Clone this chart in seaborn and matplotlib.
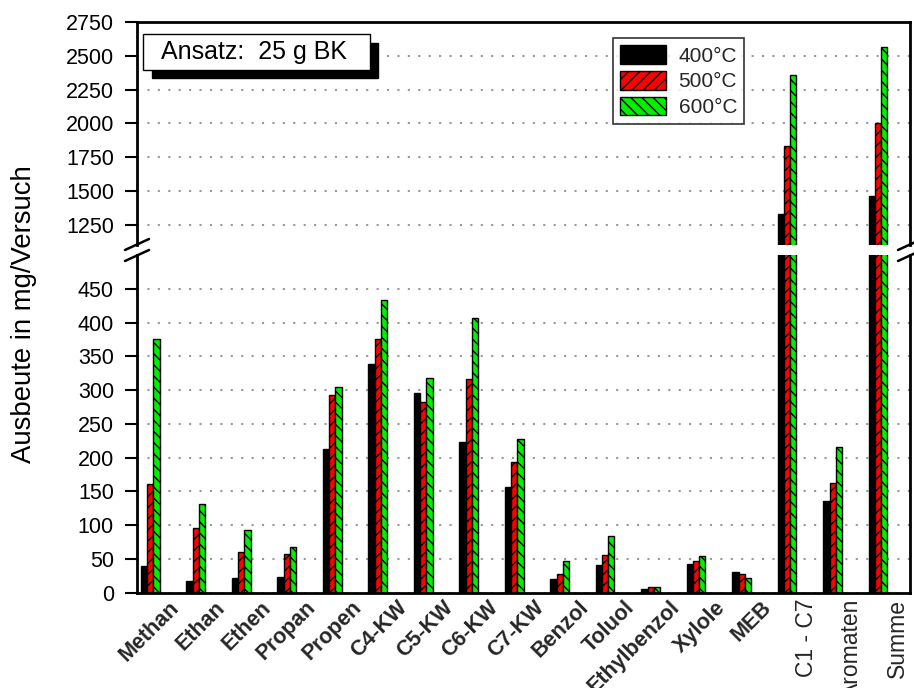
import numpy as np
import pandas as pd
import matplotlib
matplotlib.use("Agg")
import matplotlib.pyplot as plt
import matplotlib.transforms as mtransforms
from matplotlib.patches import Patch, Rectangle
from matplotlib.lines import Line2D
import seaborn as sns

# ---------------- data ----------------
categories = ["Methan", "Ethan", "Ethen", "Propan", "Propen", "C4-KW", "C5-KW",
              "C6-KW", "C7-KW", "Benzol", "Toluol", "Ethylbenzol", "Xylole",
              "MEB", "C1 - C7", "Aromaten", "Summe"]
temperatures = ["400°C", "500°C", "600°C"]
yield_400 = [40, 17, 22, 23, 213, 339, 295, 223, 156, 21, 41, 6, 42, 30, 1330, 136, 1463]
yield_500 = [161, 96, 60, 57, 292, 376, 283, 317, 194, 27, 56, 9, 47, 28, 1833, 163, 2000]
yield_600 = [375, 131, 93, 68, 304, 434, 318, 406, 228, 47, 84, 8, 55, 22, 2358, 216, 2567]
lower_ticks = list(range(0, 451, 50))
upper_ticks = list(range(1250, 2751, 250))
ylabel = "Ausbeute in mg/Versuch"
box_text = "Ansatz:  25 g BK"

df = pd.DataFrame({
    "Kategorie": categories * 3,
    "Temperatur": [temperatures[0]] * len(categories) + [temperatures[1]] * len(categories)
                  + [temperatures[2]] * len(categories),
    "Ausbeute": yield_400 + yield_500 + yield_600,
})

colors = ["#000000", "#ff0000", "#00f000"]
hatches = [None, "///", "\\\\\\"]

sns.set_theme(style="white")
plt.rcParams["font.family"] = ["Liberation Sans", "DejaVu Sans"]
plt.rcParams["hatch.linewidth"] = 1.0
plt.rcParams["hatch.color"] = "black"

W, H = 914, 688
fig = plt.figure(figsize=(W / 100, H / 100), dpi=100)

def fx(px):
    return px / W

def fy(py):
    return 1 - py / H

left, right = 137, 910
ax_lo = fig.add_axes([fx(left), fy(592.7), fx(right - left), fy(255) - fy(592.7)])
ax_hi = fig.add_axes([fx(left), fy(245), fx(right - left), fy(22) - fy(245)])

for ax in (ax_lo, ax_hi):
    sns.barplot(data=df, x="Kategorie", y="Ausbeute", hue="Temperatur",
                order=categories, hue_order=temperatures, palette=colors,
                width=0.41, gap=0, saturation=1, edgecolor="black", linewidth=1.0,
                errorbar=None, legend=False, ax=ax)
    for cont, h in zip(ax.containers, hatches):
        for bar in cont:
            bar.set_hatch(h)
            bar.set_edgecolor("black")
    ax.set_xlim(-0.29, 16.70)
    ax.set_xlabel("")
    ax.set_ylabel("")
    ax.set_axisbelow(True)
    ax.yaxis.grid(True, linestyle=(0, (1, 4)), color="#999999", linewidth=1.5)
    ax.xaxis.grid(False)
    for s in ax.spines.values():
        s.set_linewidth(2)
        s.set_color("black")
    ax.tick_params(axis="y", which="major", direction="out", length=8.6, width=1.5,
                   labelsize=15.5, pad=8, left=True, right=False, colors="black")

ax_lo.set_ylim(0, 500)
ax_lo.set_yticks(lower_ticks)
ax_lo.spines["top"].set_visible(False)
ax_hi.set_ylim(1100, 2750)
ax_hi.set_yticks(upper_ticks)
ax_hi.spines["bottom"].set_visible(False)
ax_hi.set_xticks([])
ax_hi.tick_params(axis="x", length=0, labelbottom=False)

# x tick labels
ax_lo.set_xticks(range(len(categories)))
ax_lo.set_xticklabels(categories)
ax_lo.tick_params(axis="x", length=0, pad=3)
for i, lab in enumerate(ax_lo.get_xticklabels()):
    if i < 14:
        lab.set_rotation(45)
        lab.set_ha("right")
        lab.set_va("top")
        lab.set_rotation_mode("anchor")
        lab.set_fontweight("bold")
        lab.set_fontsize(15.5)
        off = mtransforms.ScaledTranslation(0.19, 0.0, fig.dpi_scale_trans)
    else:
        lab.set_rotation(90)
        lab.set_ha("right")
        lab.set_va("center")
        lab.set_rotation_mode("anchor")
        lab.set_fontsize(16.5)
        off = mtransforms.ScaledTranslation(0.19, -0.02, fig.dpi_scale_trans)
    lab.set_transform(lab.get_transform() + off)

# legend
handles = [Patch(facecolor=c, edgecolor="black", hatch=h, linewidth=1.0)
           for c, h in zip(colors, hatches)]
leg = ax_hi.legend(handles, temperatures, loc="upper left",
                   bbox_to_anchor=((613 - left) / (right - left), (245 - 38) / (245 - 22)),
                   fontsize=15, frameon=True, fancybox=False, shadow=False,
                   handlelength=2.2, handleheight=1.0, handletextpad=0.6,
                   labelspacing=0.25, borderpad=0.35, borderaxespad=0)
leg.get_frame().set_edgecolor("black")
leg.get_frame().set_linewidth(1.2)

# annotation box with shadow
fig.patches.append(Rectangle((fx(152), fy(78)), fx(378 - 152), fy(43) - fy(78),
                             transform=fig.transFigure, facecolor="black",
                             edgecolor="black", zorder=5))
fig.patches.append(Rectangle((fx(143), fy(70)), fx(370 - 143), fy(34) - fy(70),
                             transform=fig.transFigure, facecolor="white",
                             edgecolor="black", linewidth=1.0, zorder=6))
fig.text(fx(254), fy(52), box_text, ha="center", va="center", fontsize=18,
         zorder=7, color="black")

# y label
fig.text(fx(24), fy(314), ylabel, rotation=90, ha="center", va="center",
         fontsize=19.8, color="black")

# axis-break marks
for xc in (left, right):
    for yc in (244.5, 255.5):
        fig.lines.append(Line2D([fx(xc - 12), fx(xc + 12)], [fy(yc + 5.5), fy(yc - 5.5)],
                                transform=fig.transFigure, color="black", linewidth=1.8))

fig.savefig("out.png", dpi=100)
